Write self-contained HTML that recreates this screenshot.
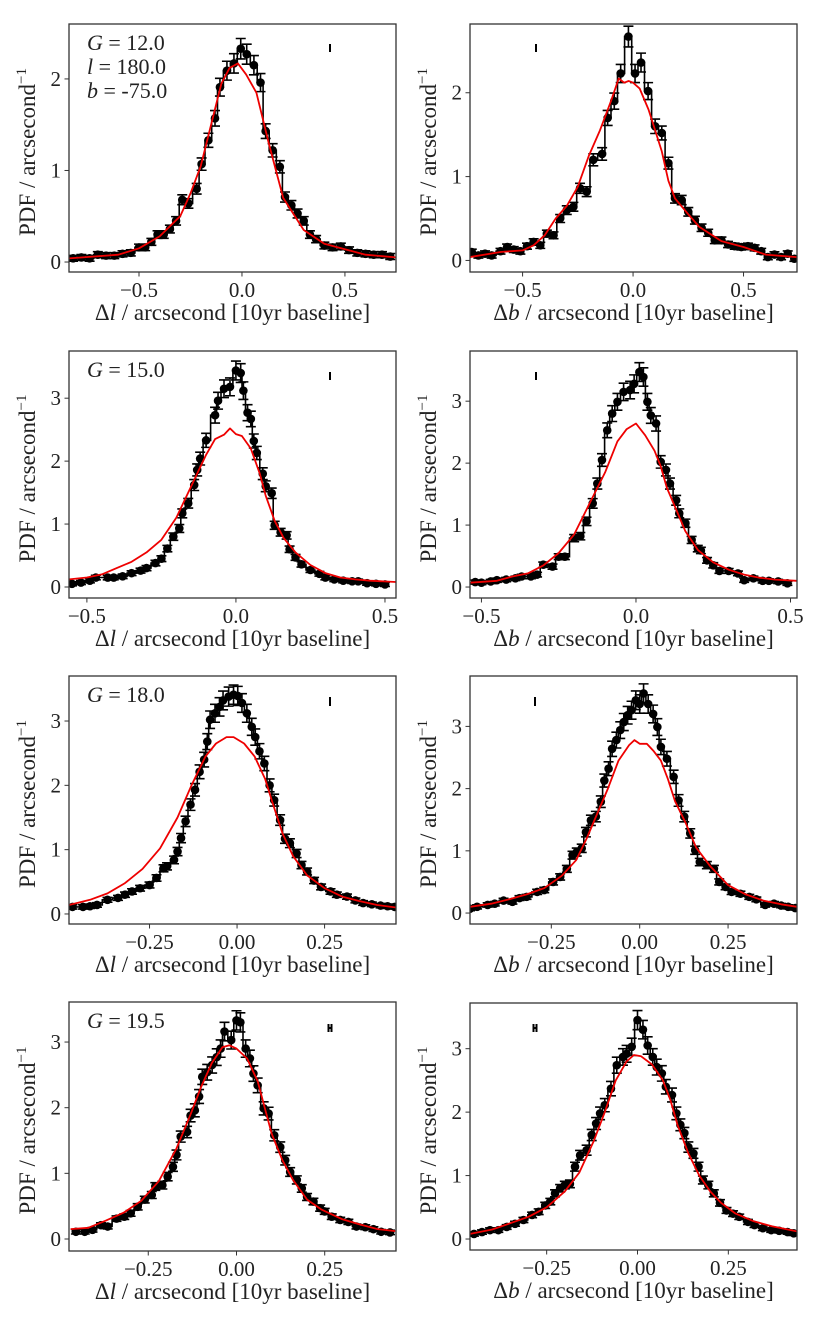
<!DOCTYPE html>
<html><head><meta charset="utf-8"><style>
html,body{margin:0;padding:0;background:#fff;}
svg{display:block;font-family:"Liberation Serif",serif;}
</style></head><body>
<svg id="fig" width="830" height="1329" viewBox="0 0 830 1329" xmlns="http://www.w3.org/2000/svg"></svg>
<script>
// ---- data ----
const ticks05 = [-0.5, 0, 0.5];
const ticks05Labels = ["\u22120.5", "0.0", "0.5"];
const ticks025 = [-0.25, 0, 0.25];
const ticks025Labels = ["\u22120.25", "0.00", "0.25"];
const yTicks2 = [0, 1, 2];
const yTicks3 = [0, 1, 2, 3];

const p1X = [-0.82,-0.78,-0.74,-0.70,-0.66,-0.62,-0.58,-0.54,-0.50,-0.47,-0.44,-0.41,-0.38,-0.35,-0.32,-0.29,-0.26,-0.22,-0.196,-0.163,-0.131,-0.107,-0.073,-0.039,-0.006,0.023,0.058,0.09,0.115,0.149,0.184,0.209,0.24,0.27,0.30,0.33,0.36,0.40,0.44,0.48,0.52,0.56,0.60,0.64,0.68,0.72];
const p1Y = [0.04,0.05,0.04,0.08,0.07,0.07,0.09,0.10,0.16,0.16,0.22,0.30,0.30,0.36,0.45,0.68,0.64,0.80,1.07,1.33,1.57,1.91,2.09,2.17,2.33,2.27,2.15,1.96,1.43,1.22,1.04,0.71,0.62,0.53,0.45,0.30,0.25,0.18,0.16,0.17,0.13,0.10,0.09,0.08,0.08,0.06];
const p1RX = [-0.84,-0.6,-0.5,-0.4,-0.3,-0.25,-0.2,-0.15,-0.1,-0.06,-0.02,0.02,0.07,0.13,0.2,0.3,0.4,0.5,0.6,0.75];
const p1RY = [0.04,0.08,0.15,0.28,0.5,0.75,1.05,1.5,1.95,2.12,2.17,2.05,1.85,1.3,0.7,0.35,0.2,0.14,0.08,0.05];

const p2X = [-0.73,-0.70,-0.67,-0.64,-0.60,-0.57,-0.54,-0.51,-0.48,-0.45,-0.42,-0.39,-0.36,-0.33,-0.30,-0.27,-0.24,-0.21,-0.18,-0.14,-0.115,-0.085,-0.056,-0.021,0.009,0.036,0.068,0.1,0.13,0.16,0.19,0.22,0.25,0.28,0.31,0.34,0.37,0.40,0.43,0.46,0.49,0.52,0.55,0.58,0.61,0.64,0.67,0.70,0.73];
const p2Y = [0.10,0.06,0.08,0.06,0.11,0.16,0.13,0.11,0.17,0.22,0.18,0.32,0.30,0.50,0.60,0.64,0.86,0.82,1.20,1.27,1.70,1.90,2.23,2.67,2.23,2.36,2.02,1.60,1.52,1.16,0.74,0.72,0.58,0.48,0.39,0.33,0.24,0.24,0.19,0.17,0.16,0.17,0.15,0.11,0.04,0.07,0.04,0.08,0.02];
const p2RX = [-0.74,-0.6,-0.5,-0.45,-0.4,-0.35,-0.3,-0.25,-0.2,-0.15,-0.1,-0.065,-0.04,-0.02,0.0,0.03,0.07,0.1,0.13,0.16,0.19,0.25,0.3,0.4,0.5,0.6,0.74];
const p2RY = [0.04,0.1,0.12,0.18,0.3,0.5,0.65,0.88,1.25,1.55,1.9,2.17,2.12,2.14,2.12,2.05,1.8,1.55,1.3,0.95,0.74,0.55,0.4,0.23,0.16,0.07,0.04];

const p3X = [-0.55,-0.52,-0.49,-0.47,-0.43,-0.41,-0.38,-0.35,-0.32,-0.30,-0.27,-0.25,-0.23,-0.21,-0.19,-0.18,-0.16,-0.14,-0.13,-0.12,-0.10,-0.07,-0.06,-0.04,-0.02,0.0,0.016,0.025,0.039,0.05,0.06,0.07,0.09,0.10,0.12,0.13,0.15,0.17,0.18,0.2,0.22,0.25,0.28,0.30,0.33,0.36,0.39,0.41,0.44,0.47,0.5];
const p3Y = [0.05,0.07,0.10,0.15,0.15,0.15,0.17,0.22,0.26,0.30,0.38,0.45,0.61,0.80,0.93,1.17,1.33,1.62,1.86,2.04,2.33,2.73,2.96,3.15,3.18,3.44,3.40,3.12,2.77,2.67,2.32,2.13,1.80,1.60,1.49,0.98,0.87,0.82,0.60,0.47,0.36,0.27,0.21,0.15,0.12,0.10,0.09,0.09,0.06,0.05,0.04];
const p3RX = [-0.56,-0.5,-0.45,-0.4,-0.35,-0.3,-0.25,-0.2,-0.15,-0.1,-0.07,-0.04,-0.02,0.0,0.02,0.05,0.08,0.1,0.13,0.16,0.2,0.25,0.3,0.35,0.4,0.45,0.537];
const p3RY = [0.12,0.15,0.2,0.3,0.4,0.55,0.75,1.1,1.6,2.1,2.35,2.42,2.52,2.43,2.4,2.2,1.8,1.45,1.05,0.78,0.55,0.35,0.22,0.15,0.12,0.1,0.08];

const p4X = [-0.52,-0.50,-0.47,-0.45,-0.42,-0.39,-0.37,-0.34,-0.32,-0.30,-0.27,-0.25,-0.23,-0.2,-0.18,-0.16,-0.14,-0.125,-0.11,-0.093,-0.077,-0.06,-0.04,-0.019,-0.006,0.011,0.024,0.037,0.048,0.065,0.08,0.097,0.11,0.13,0.14,0.16,0.18,0.2,0.21,0.23,0.25,0.27,0.30,0.33,0.35,0.38,0.41,0.43,0.46,0.49];
const p4Y = [0.08,0.07,0.09,0.11,0.12,0.14,0.17,0.17,0.20,0.36,0.33,0.49,0.49,0.79,0.82,1.06,1.35,1.67,2.05,2.53,2.80,2.99,3.15,3.18,3.28,3.47,3.39,2.99,2.77,2.64,2.02,1.89,1.67,1.40,1.19,1.03,0.76,0.62,0.59,0.43,0.35,0.26,0.26,0.22,0.11,0.14,0.10,0.10,0.09,0.06];
const p4RX = [-0.537,-0.45,-0.4,-0.35,-0.3,-0.25,-0.2,-0.15,-0.1,-0.06,-0.03,0.0,0.03,0.06,0.08,0.1,0.13,0.16,0.2,0.25,0.3,0.35,0.4,0.45,0.52];
const p4RY = [0.07,0.1,0.17,0.22,0.35,0.55,0.85,1.35,1.85,2.35,2.55,2.64,2.45,2.2,1.95,1.6,1.25,0.9,0.6,0.4,0.28,0.2,0.15,0.12,0.1];

const p5X = [-0.47,-0.44,-0.42,-0.40,-0.37,-0.34,-0.32,-0.30,-0.277,-0.25,-0.23,-0.21,-0.20,-0.18,-0.17,-0.16,-0.147,-0.133,-0.12,-0.107,-0.094,-0.085,-0.077,-0.063,-0.05,-0.04,-0.024,-0.01,0.002,0.014,0.028,0.042,0.052,0.064,0.078,0.093,0.106,0.123,0.137,0.151,0.17,0.184,0.2,0.22,0.24,0.267,0.285,0.314,0.338,0.36,0.385,0.41,0.43,0.45];
const p5Y = [0.11,0.11,0.12,0.14,0.22,0.25,0.30,0.35,0.40,0.45,0.56,0.71,0.74,0.84,0.97,1.18,1.44,1.70,1.93,2.21,2.40,2.68,3.02,3.12,3.22,3.32,3.38,3.41,3.39,3.28,3.12,2.91,2.75,2.53,2.34,2.00,1.77,1.46,1.17,1.10,0.94,0.76,0.66,0.52,0.42,0.35,0.30,0.27,0.21,0.17,0.15,0.13,0.12,0.11];
const p5RX = [-0.48,-0.42,-0.37,-0.32,-0.27,-0.22,-0.17,-0.13,-0.09,-0.06,-0.03,-0.01,0.02,0.05,0.08,0.1,0.13,0.16,0.2,0.25,0.3,0.35,0.4,0.454];
const p5RY = [0.14,0.22,0.32,0.48,0.7,1.02,1.5,2.0,2.45,2.65,2.75,2.75,2.65,2.45,2.1,1.75,1.25,0.9,0.6,0.4,0.27,0.2,0.14,0.1];

const p6X = [-0.48,-0.46,-0.43,-0.41,-0.385,-0.36,-0.34,-0.32,-0.29,-0.27,-0.245,-0.225,-0.206,-0.19,-0.178,-0.164,-0.152,-0.138,-0.124,-0.11,-0.1,-0.088,-0.078,-0.066,-0.055,-0.045,-0.034,-0.023,-0.011,0.0,0.011,0.024,0.038,0.05,0.06,0.077,0.096,0.11,0.126,0.143,0.157,0.17,0.19,0.21,0.225,0.243,0.26,0.285,0.31,0.33,0.355,0.38,0.4,0.42,0.44];
const p6Y = [0.07,0.10,0.13,0.15,0.20,0.18,0.24,0.26,0.34,0.37,0.50,0.58,0.71,0.93,0.98,1.04,1.30,1.49,1.55,1.79,2.13,2.32,2.64,2.78,2.94,3.07,3.18,3.26,3.42,3.36,3.53,3.36,3.20,2.99,2.67,2.48,2.19,1.81,1.55,1.28,1.01,0.82,0.77,0.71,0.50,0.42,0.34,0.31,0.26,0.22,0.13,0.15,0.12,0.10,0.08];
const p6RX = [-0.48,-0.42,-0.37,-0.32,-0.27,-0.22,-0.18,-0.15,-0.12,-0.09,-0.06,-0.03,-0.015,0.0,0.02,0.04,0.06,0.08,0.1,0.13,0.16,0.2,0.25,0.3,0.35,0.4,0.445];
const p6RY = [0.1,0.15,0.22,0.3,0.4,0.6,0.85,1.2,1.6,2.0,2.45,2.7,2.78,2.72,2.72,2.6,2.45,2.15,1.8,1.45,1.05,0.75,0.45,0.3,0.2,0.14,0.1];

const p7X = [-0.455,-0.43,-0.408,-0.384,-0.365,-0.34,-0.318,-0.3,-0.28,-0.26,-0.24,-0.23,-0.21,-0.195,-0.18,-0.17,-0.158,-0.14,-0.13,-0.118,-0.106,-0.097,-0.083,-0.069,-0.056,-0.045,-0.034,-0.015,0.0,0.011,0.026,0.038,0.048,0.06,0.077,0.091,0.107,0.124,0.138,0.152,0.171,0.185,0.2,0.218,0.237,0.25,0.27,0.294,0.317,0.34,0.365,0.388,0.41,0.435];
const p7Y = [0.11,0.11,0.14,0.21,0.19,0.31,0.34,0.39,0.49,0.60,0.67,0.80,0.82,0.95,1.10,1.28,1.56,1.63,1.88,1.96,2.17,2.47,2.54,2.65,2.77,2.90,3.16,3.03,3.33,3.30,2.90,2.75,2.52,2.34,1.99,1.91,1.58,1.40,1.20,1.02,0.90,0.77,0.64,0.57,0.47,0.42,0.34,0.29,0.26,0.19,0.18,0.15,0.11,0.10];
const p7RX = [-0.47,-0.42,-0.37,-0.32,-0.27,-0.22,-0.17,-0.13,-0.1,-0.07,-0.04,-0.02,0.0,0.03,0.06,0.08,0.1,0.13,0.16,0.2,0.24,0.3,0.35,0.4,0.45];
const p7RY = [0.15,0.17,0.28,0.4,0.58,0.88,1.38,1.9,2.32,2.68,2.92,2.95,2.9,2.75,2.4,2.0,1.6,1.2,0.9,0.6,0.45,0.3,0.22,0.15,0.12];

const p8X = [-0.45,-0.428,-0.406,-0.383,-0.36,-0.337,-0.314,-0.29,-0.272,-0.254,-0.24,-0.227,-0.213,-0.2,-0.186,-0.172,-0.158,-0.14,-0.126,-0.114,-0.103,-0.09,-0.073,-0.057,-0.04,-0.03,-0.016,0.0,0.015,0.028,0.042,0.053,0.067,0.078,0.095,0.107,0.118,0.129,0.14,0.154,0.168,0.18,0.195,0.21,0.227,0.245,0.263,0.28,0.304,0.322,0.345,0.368,0.39,0.413,0.43];
const p8Y = [0.08,0.11,0.14,0.14,0.19,0.24,0.30,0.38,0.43,0.53,0.59,0.72,0.80,0.85,0.87,1.14,1.32,1.40,1.64,1.82,1.98,2.11,2.37,2.74,2.87,2.92,3.03,3.45,3.30,3.05,2.87,2.71,2.61,2.40,2.27,1.98,1.80,1.67,1.45,1.35,1.14,0.93,0.85,0.72,0.57,0.45,0.40,0.35,0.27,0.22,0.17,0.14,0.13,0.11,0.09];
const p8RX = [-0.461,-0.4,-0.35,-0.3,-0.25,-0.2,-0.16,-0.12,-0.09,-0.06,-0.03,-0.01,0.01,0.04,0.07,0.09,0.11,0.14,0.17,0.2,0.23,0.27,0.32,0.37,0.439];
const p8RY = [0.08,0.15,0.25,0.35,0.5,0.75,1.05,1.55,2.0,2.5,2.8,2.9,2.88,2.75,2.5,2.2,1.8,1.35,1.0,0.75,0.57,0.4,0.28,0.2,0.12];

// ---- layout ----
const panels = [
 {n:1, box:[69,24,396,272], xl:[-0.840,0.748], yl:[-0.109,2.60], xt:ticks05, xtl:ticks05Labels, yt:yTicks2, X:p1X, Y:p1Y, RX:p1RX, RY:p1RY, ax:"l", ann:["G = 12.0","l = 180.0","b = -75.0"], eb:[330,44,52,false]},
 {n:2, box:[470,24,797,272], xl:[-0.738,0.742], yl:[-0.138,2.82], xt:ticks05, xtl:ticks05Labels, yt:yTicks2, X:p2X, Y:p2Y, RX:p2RX, RY:p2RY, ax:"b", ann:[], eb:[536,44,52,false]},
 {n:3, box:[69,351,396,598], xl:[-0.560,0.537], yl:[-0.175,3.75], xt:ticks05, xtl:ticks05Labels, yt:yTicks3, X:p3X, Y:p3Y, RX:p3RX, RY:p3RY, ax:"l", ann:["G = 15.0"], eb:[330,372,380,false]},
 {n:4, box:[470,351,797,598], xl:[-0.537,0.521], yl:[-0.177,3.81], xt:ticks05, xtl:ticks05Labels, yt:yTicks3, X:p4X, Y:p4Y, RX:p4RX, RY:p4RY, ax:"b", ann:[], eb:[536,372,380,false]},
 {n:5, box:[69,676,396,924], xl:[-0.480,0.454], yl:[-0.156,3.70], xt:ticks025, xtl:ticks025Labels, yt:yTicks3, X:p5X, Y:p5Y, RX:p5RX, RY:p5RY, ax:"l", ann:["G = 18.0"], eb:[330,697,706,false]},
 {n:6, box:[470,676,797,924], xl:[-0.480,0.445], yl:[-0.176,3.81], xt:ticks025, xtl:ticks025Labels, yt:yTicks3, X:p6X, Y:p6Y, RX:p6RX, RY:p6RY, ax:"b", ann:[], eb:[535,697,706,false]},
 {n:7, box:[69,1002,396,1251], xl:[-0.4746,0.452], yl:[-0.183,3.61], xt:ticks025, xtl:ticks025Labels, yt:yTicks3, X:p7X, Y:p7Y, RX:p7RX, RY:p7RY, ax:"l", ann:["G = 19.5"], eb:[330,1024,1032,true]},
 {n:8, box:[470,1003,797,1250], xl:[-0.461,0.439], yl:[-0.173,3.72], xt:ticks025, xtl:ticks025Labels, yt:yTicks3, X:p8X, Y:p8Y, RX:p8RX, RY:p8RY, ax:"b", ann:[], eb:[535,1024,1032,true]},
];

const NS = "http://www.w3.org/2000/svg";
const svg = document.getElementById("fig");
function mk(tag, attrs, parent){
  const e = document.createElementNS(NS, tag);
  for (const k in attrs) e.setAttribute(k, attrs[k]);
  (parent||svg).appendChild(e);
  return e;
}

panels.forEach(p => {
  const [x0,y0,x1,y1] = p.box;
  const sx = v => x0 + (v - p.xl[0]) / (p.xl[1]-p.xl[0]) * (x1-x0);
  const sy = v => y1 - (v - p.yl[0]) / (p.yl[1]-p.yl[0]) * (y1-y0);
  const g = mk("g", {});
  
  
  const clipId = "clip" + p.n;
  const cp = mk("clipPath", {id: clipId}, g);
  mk("rect", {x:x0, y:y0, width:x1-x0, height:y1-y0}, cp);
  const plot = mk("g", {"clip-path":"url(#"+clipId+")"}, g);

  const idx = p.X.map((_,i)=>i).sort((a,b)=>p.X[a]-p.X[b]);
  const xs = idx.map(i=>p.X[i]), ys = idx.map(i=>p.Y[i]);

  let d = "";
  for (let i=0;i<xs.length;i++){
    const left = i===0 ? xs[0] - (xs[1]-xs[0])/2 : (xs[i-1]+xs[i])/2;
    const right = i===xs.length-1 ? xs[i] + (xs[i]-xs[i-1])/2 : (xs[i]+xs[i+1])/2;
    d += (i===0 ? "M" : "L") + sx(left).toFixed(1) + "," + sy(ys[i]).toFixed(1) + " L" + sx(right).toFixed(1) + "," + sy(ys[i]).toFixed(1) + " ";
  }
  const step = mk("path", {d:d, fill:"none", stroke:"#000", "stroke-width":1.6}, plot);
  
  

  const eg = mk("g", {}, plot);
  
  
  for (let i=0;i<xs.length;i++){
    const e = 0.03 + 0.035*ys[i];
    const cx = sx(xs[i]);
    const ya = sy(ys[i]+e), yb = sy(ys[i]-e);
    mk("path", {d:`M${cx},${ya} L${cx},${yb} M${cx-5},${ya} L${cx+5},${ya} M${cx-5},${yb} L${cx+5},${yb}`, stroke:"#000", "stroke-width":1.6, fill:"none"}, eg);
  }
  const pg = mk("g", {}, plot);
  
  
  for (let i=0;i<xs.length;i++){
    const c = mk("circle", {cx:sx(xs[i]), cy:sy(ys[i]), r:4.3, fill:"#000"}, pg);
    
    
  }
  let rd = "";
  for (let i=0;i<p.RX.length;i++) rd += (i?"L":"M") + sx(p.RX[i]).toFixed(1) + "," + sy(p.RY[i]).toFixed(1) + " ";
  const red = mk("path", {d:rd, fill:"none", stroke:"#ee0000", "stroke-width":1.8, "stroke-linejoin":"round"}, plot);
  
  

  const [ex, ea, eb2, hcap] = p.eb;
  let md = `M${ex},${ea} L${ex},${eb2}`;
  if (hcap) md = `M${ex-1.5},${ea} L${ex-1.5},${eb2} M${ex+1.5},${ea} L${ex+1.5},${eb2} M${ex-1.5},${(ea+eb2)/2} L${ex+1.5},${(ea+eb2)/2}`;
  const m = mk("path", {d:md, stroke:"#000", "stroke-width":2, fill:"none"}, g);
  
  

  const fr = mk("rect", {x:x0, y:y0, width:x1-x0, height:y1-y0, fill:"none", stroke:"#333", "stroke-width":1.3}, g);
  
  

  p.xt.forEach((t,i) => {
    const x = sx(t);
    mk("line", {x1:x, x2:x, y1:y1, y2:y1+4.5, stroke:"#333", "stroke-width":1}, g);
    const tx = mk("text", {x:x, y:y1+25, "font-size":21, "text-anchor":"middle", fill:"#222"}, g);
    tx.textContent = p.xtl[i];
    
    
  });
  p.yt.forEach(t => {
    const y = sy(t);
    mk("line", {x1:x0-4.5, x2:x0, y1:y, y2:y, stroke:"#333", "stroke-width":1}, g);
    const tx = mk("text", {x:x0-8, y:y+7, "font-size":21, "text-anchor":"end", fill:"#222"}, g);
    tx.textContent = String(t);
    
    
  });
  const xlab = mk("text", {x:(x0+x1)/2, y:y1+48, "font-size":23, "text-anchor":"middle", fill:"#222"}, g);
  xlab.innerHTML = '\u0394<tspan font-style="italic">' + p.ax + '</tspan> / arcsecond [10yr baseline]';
  
  
  const yc = (y0+y1)/2 + 4, xc = x0 - 34;
  const ylab = mk("text", {x:xc, y:yc, "font-size":23, "text-anchor":"middle", fill:"#222", transform:`rotate(-90 ${xc} ${yc})`}, g);
  ylab.innerHTML = 'PDF / arcsecond<tspan dy="-9" font-size="15">\u22121</tspan>';
  
  
  p.ann.forEach((s,i) => {
    const parts = s.split(" = ");
    const a = mk("text", {x:x0+18, y:y0+26+i*24, "font-size":22, fill:"#222"}, g);
    a.innerHTML = '<tspan font-style="italic">' + parts[0] + '</tspan> = ' + parts[1];
    
    
  });
});
</script>
</body></html>
